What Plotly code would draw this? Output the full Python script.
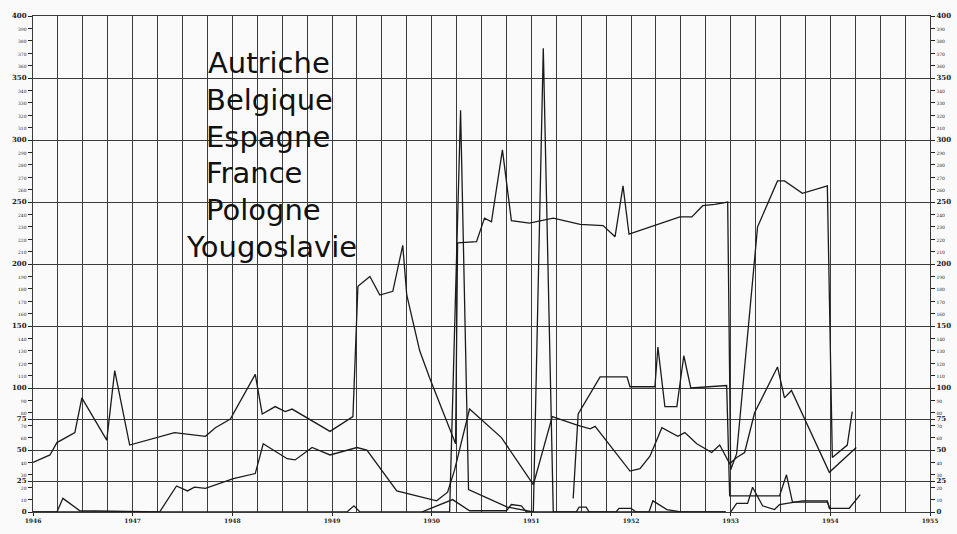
import plotly.graph_objects as go

# ---------------- data ----------------
countries = ["Autriche", "Belgique", "Espagne", "France", "Pologne", "Yougoslavie"]

years = [1946, 1947, 1948, 1949, 1950, 1951, 1952, 1953, 1954, 1955]

yougoslavie_t = [1946.00, 1946.17, 1946.24, 1946.42, 1946.49, 1946.74, 1946.82, 1946.97,
                 1947.42, 1947.73, 1947.83, 1947.98, 1948.23, 1948.30, 1948.43, 1948.53,
                 1948.60, 1948.98, 1949.21, 1949.26, 1949.38, 1949.48, 1949.61, 1949.71,
                 1949.75, 1949.88, 1949.98, 1950.21, 1950.24, 1950.26, 1950.45, 1950.53,
                 1950.60, 1950.71, 1950.80, 1950.98, 1951.22, 1951.49, 1951.72, 1951.84,
                 1951.92, 1951.98, 1952.24, 1952.49, 1952.61, 1952.72, 1952.84, 1952.97,
                 1953.00, 1953.06, 1953.27, 1953.47, 1953.54, 1953.72, 1953.97, 1954.02,
                 1954.17, 1954.22]
yougoslavie_v = [40, 46, 56, 64, 92, 58, 114, 54,
                 64, 61, 68, 75, 111, 79, 85, 81,
                 83, 65, 77, 182, 190, 175, 178, 215,
                 175, 130, 108, 60, 55, 217, 218, 237,
                 234, 292, 235, 233, 237, 232, 231, 222,
                 263, 224, 231, 238, 238, 247, 248, 250,
                 34, 47, 230, 267, 267, 257, 263, 44,
                 54, 81]

pologne_t = [1946.00, 1946.24, 1946.30, 1946.47, 1947.27, 1947.44, 1947.55, 1947.62,
             1947.73, 1948.01, 1948.23, 1948.31, 1948.55, 1948.63, 1948.80, 1948.98,
             1949.25, 1949.35, 1949.65, 1950.05, 1950.16, 1950.23, 1950.38, 1950.70,
             1951.02, 1951.21, 1951.46, 1951.59, 1951.64, 1951.99, 1952.09, 1952.19,
             1952.31, 1952.47, 1952.54, 1952.66, 1952.81, 1952.89, 1952.99, 1953.06,
             1953.14, 1953.24, 1953.47, 1953.54, 1953.61, 1953.99, 1954.26]
pologne_v = [0, 0, 11, 1, 0, 21, 17, 20,
             19, 27, 31, 55, 43, 42, 52, 46,
             52, 50, 17, 9, 16, 34, 83, 60,
             22, 77, 70, 67, 69, 33, 35, 45,
             68, 61, 64, 55, 48, 54, 39, 44,
             48, 80, 117, 92, 98, 32, 52]

autriche_t = [1946.00, 1949.15, 1949.22, 1949.28, 1950.18, 1950.29, 1950.37, 1950.76,
              1951.02, 1951.12, 1951.22, 1951.45, 1951.48, 1951.55, 1951.58, 1952.95]
autriche_v = [0, 0, 5, 0, 0, 324, 18, 4,
              0, 374, 0, 0, 4, 4, 0, 0]

espagne_t = [1951.42, 1951.47, 1951.69, 1951.96, 1951.99, 1952.24, 1952.27, 1952.34,
             1952.46, 1952.53, 1952.60, 1952.96, 1952.99, 1953.49, 1953.56, 1953.62,
             1953.97, 1954.00]
espagne_v = [11, 79, 109, 109, 101, 101, 133, 85,
             85, 126, 100, 102, 13, 13, 30, 8,
             8, 2]

belgique_t = [1949.90, 1950.21, 1950.38, 1950.75, 1950.80, 1950.90, 1950.95, 1951.85,
              1951.88, 1952.00, 1952.05, 1952.18, 1952.22, 1952.36, 1952.50, 1952.95]
belgique_v = [0, 10, 1, 1, 6, 5, 0, 0,
              3, 3, 0, 0, 9, 2, 0, 0]

france_t = [1953.00, 1953.06, 1953.17, 1953.22, 1953.32, 1953.44, 1953.49, 1953.72,
            1953.97, 1953.99, 1954.19, 1954.30]
france_v = [0, 7, 7, 20, 5, 2, 6, 9,
            9, 3, 3, 14]

series_t = [autriche_t, belgique_t, espagne_t, france_t, pologne_t, yougoslavie_t]
series_v = [autriche_v, belgique_v, espagne_v, france_v, pologne_v, yougoslavie_v]

grid_values = [0, 25, 50, 75, 100, 150, 200, 250, 300, 350, 400]
tick_values = sorted(set(list(range(0, 401, 10)) + [25, 75]))


def tick_label(v):
    if v % 50 == 0 or v in (25, 75):
        return "<b>%d</b>" % v
    return '<span style="font-size:4.5px">%d</span>' % v


tick_text = [tick_label(v) for v in tick_values]

# ---------------- figure ----------------
LINE = "#1b1b1b"
GRID = "#3c3c3c"

fig = go.Figure()
for name, t, v in zip(countries, series_t, series_v):
    fig.add_trace(go.Scatter(
        x=t, y=v, mode="lines", name=name,
        line=dict(color=LINE, width=1.3),
        showlegend=False, hoverinfo="skip",
        yaxis="y2" if name == "France" else "y",
    ))

yax_common = dict(
    range=[0, 400], tickmode="array", tickvals=tick_values, ticktext=tick_text,
    ticks="outside", ticklen=4, tickcolor="#222", tickwidth=1,
    tickfont=dict(family="DejaVu Serif", size=7, color="#222"),
    zeroline=False, fixedrange=True, automargin=False,
)

fig.update_layout(
    width=957, height=534,
    margin=dict(l=33, r=27, t=16, b=22, autoexpand=False),
    paper_bgcolor="#fafafa", plot_bgcolor="#fafafa",
    xaxis=dict(
        range=[1946, 1955], tickmode="array", tickvals=years,
        ticktext=["<b>%d</b>" % y for y in years],
        tickfont=dict(family="DejaVu Serif", size=6, color="#222"),
        ticks="outside", ticklen=3, tickcolor="#222",
        showgrid=True, gridcolor=GRID, gridwidth=1,
        minor=dict(dtick=0.25, tick0=1946, showgrid=True, gridcolor=GRID, gridwidth=1),
        zeroline=False, showline=True, linecolor=GRID, mirror=True, automargin=False,
        fixedrange=True,
    ),
    yaxis=dict(
        **yax_common, side="left", showgrid=False,
        minor=dict(tickmode="array", tickvals=grid_values, showgrid=True,
                   gridcolor=GRID, gridwidth=1, ticks=""),
        showline=True, linecolor=GRID,
    ),
    yaxis2=dict(
        **yax_common, side="right", overlaying="y", anchor="x", showgrid=False,
        showline=True, linecolor=GRID,
    ),
)

# country names written on the chart
name_y_px = [63, 100, 137, 173, 210, 247]
name_x_px = [206, 204, 204, 204, 204, 184]
for name, xp, yp in zip(countries, name_x_px, name_y_px):
    fig.add_annotation(
        x=(xp - 33) / 897, y=(512 - yp) / 496, xref="paper", yref="paper",
        text=name, showarrow=False, xanchor="left", yanchor="middle",
        font=dict(family="DejaVu Sans", size=29, color="#111"),
        bgcolor="rgba(0,0,0,0)",
    )

fig.write_html(
    "out.html",
    config={"displayModeBar": False},
    post_script="document.body.style.margin='0px';document.body.style.background='#fafafa';",
)
